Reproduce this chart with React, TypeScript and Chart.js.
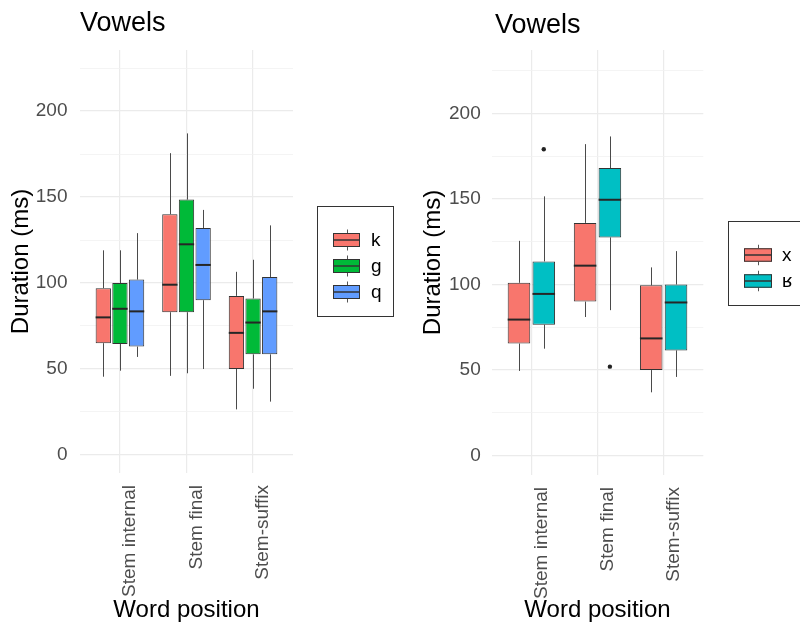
import React, { useEffect, useRef } from "react";
import { Chart, registerables } from "chart.js";

Chart.register(...registerables);

// ---------- data ----------
const categories = ["Stem internal", "Stem final", "Stem-suffix"];
const yTickValues = [0, 25, 50, 75, 100, 125, 150, 175, 200, 225];
const chartTitle = "Vowels";
const xTitle = "Word position";
const yTitle = "Duration (ms)";

// five-number summaries per category: [lower whisker, Q1, median, Q3, upper whisker]
const leftSeries = ["k", "g", "q"];
const kStats = [
  [45.5, 65, 80, 97, 119],
  [46, 83, 99, 140, 175.5],
  [26.5, 50, 71, 92.5, 106.5],
];
const gStats = [
  [49, 64.5, 85, 100, 119],
  [47.5, 83, 122.5, 148.5, 187],
  [38.5, 58.5, 77, 91, 113.5],
];
const qStats = [
  [57, 63, 83.5, 102, 129],
  [50, 90, 110.5, 132, 142.5],
  [31, 58.5, 83.5, 103.5, 133.5],
];
const leftOutliers = [
  [[], [], []],
  [[], [], []],
  [[], [], []],
];

const rightSeries = ["x", "ʁ"];
const xStats = [
  [49.5, 65.5, 79.5, 101, 125.5],
  [81, 90, 111, 136, 182],
  [37, 50, 68.5, 99.5, 110],
];
const rStats = [
  [62.5, 76.5, 94.5, 113.5, 151.5],
  [85, 127.5, 149.5, 168, 186.5],
  [46, 61.5, 89.5, 100, 119.5],
];
const rightOutliers = [
  [[], [], []],
  [[179], [52], []],
];

const leftColors = ["#F8766D", "#00BA38", "#619CFF"];
const rightColors = ["#F8766D", "#00BFC4"];

// ---------- helpers ----------
const FONT = "'Liberation Sans', Arial, Helvetica, sans-serif";
const OUTLINE = "#333333";

type LegendLayout = {
  x: number;
  y: number;
  w: number;
  h: number;
  keyX: number;
  keyW: number;
  keyH: number;
  rows: number[];
  labelX: number;
};

type Panel = {
  series: string[];
  stats: number[][][];
  outliers: number[][][];
  colors: string[];
  yMin: number;
  yMax: number;
  yAxisWidth: number;
  xAxisHeight: number;
  rightPad: number;
  tickPad: number;
  yTitlePad: number;
  barPct: number;
  labelOffset: number;
  titleX: number;
  titleY: number;
  legend: LegendLayout;
};

function boxPlugin(p: Panel) {
  return {
    id: "boxplotExtras",
    beforeDatasetsDraw(chart: any) {
      const ctx = chart.ctx;
      const ys = chart.scales.y;
      ctx.save();
      ctx.strokeStyle = "#4a4a4a";
      ctx.lineWidth = 1;
      p.series.forEach((_s, si) => {
        const meta = chart.getDatasetMeta(si);
        meta.data.forEach((el: any, ci: number) => {
          const st = p.stats[si][ci];
          const x = Math.round(el.x) + 0.5;
          ctx.beginPath();
          ctx.moveTo(x, ys.getPixelForValue(st[1]));
          ctx.lineTo(x, ys.getPixelForValue(st[0]));
          ctx.moveTo(x, ys.getPixelForValue(st[3]));
          ctx.lineTo(x, ys.getPixelForValue(st[4]));
          ctx.stroke();
        });
      });
      ctx.restore();
    },
    afterDatasetsDraw(chart: any) {
      const ctx = chart.ctx;
      const ys = chart.scales.y;
      ctx.save();
      p.series.forEach((_s, si) => {
        const meta = chart.getDatasetMeta(si);
        meta.data.forEach((el: any, ci: number) => {
          const st = p.stats[si][ci];
          const ym = ys.getPixelForValue(st[2]);
          ctx.strokeStyle = "#262626";
          ctx.lineWidth = 2;
          ctx.beginPath();
          ctx.moveTo(el.x - el.width / 2, ym);
          ctx.lineTo(el.x + el.width / 2, ym);
          ctx.stroke();
          const outs = p.outliers[si][ci];
          ctx.fillStyle = "#222222";
          outs.forEach((v) => {
            ctx.beginPath();
            ctx.arc(el.x, ys.getPixelForValue(v), 2.2, 0, Math.PI * 2);
            ctx.fill();
          });
        });
      });
      ctx.restore();
    },
    afterDraw(chart: any) {
      const ctx = chart.ctx;
      ctx.save();
      // title
      ctx.fillStyle = "#000";
      ctx.font = `27px ${FONT}`;
      ctx.textAlign = "left";
      ctx.textBaseline = "alphabetic";
      ctx.fillText(chartTitle, p.titleX, p.titleY);
      // legend
      const L = p.legend;
      ctx.strokeStyle = "#333333";
      ctx.lineWidth = 1;
      ctx.strokeRect(L.x + 0.5, L.y + 0.5, L.w, L.h);
      p.series.forEach((s, si) => {
        const cy = L.rows[si];
        const cx = L.keyX + L.keyW / 2;
        ctx.strokeStyle = "#555";
        ctx.lineWidth = 1;
        ctx.beginPath();
        ctx.moveTo(Math.round(cx) + 0.5, cy - L.keyH / 2 - 3.5);
        ctx.lineTo(Math.round(cx) + 0.5, cy + L.keyH / 2 + 3.5);
        ctx.stroke();
        ctx.fillStyle = p.colors[si];
        ctx.fillRect(L.keyX, cy - L.keyH / 2, L.keyW, L.keyH);
        ctx.strokeStyle = OUTLINE;
        ctx.strokeRect(L.keyX + 0.5, cy - L.keyH / 2 + 0.5, L.keyW - 1, L.keyH - 1);
        ctx.lineWidth = 1.5;
        ctx.beginPath();
        ctx.moveTo(L.keyX, cy);
        ctx.lineTo(L.keyX + L.keyW, cy);
        ctx.stroke();
        ctx.fillStyle = "#000";
        ctx.font = `19px ${FONT}`;
        ctx.textBaseline = "middle";
        ctx.fillText(s, L.labelX, cy + 1);
      });
      ctx.restore();
    },
  };
}

function makeConfig(p: Panel): any {
  return {
    type: "bar",
    data: {
      datasets: p.series.map((s, si) => ({
        label: s,
        data: categories.map((_c, ci) => ({
          x: ci + 1,
          y: [p.stats[si][ci][1], p.stats[si][ci][3]],
        })),
        backgroundColor: p.colors[si],
        borderColor: OUTLINE,
        borderWidth: 1,
        borderSkipped: false,
        categoryPercentage: 0.75,
        barPercentage: p.barPct,
      })),
    },
    options: {
      animation: false,
      responsive: false,
      devicePixelRatio: 1,
      events: [],
      layout: { padding: { top: 50, right: p.rightPad, left: 0, bottom: 0 } },
      plugins: {
        legend: { display: false },
        tooltip: { enabled: false },
        title: { display: false },
      },
      scales: {
        x: {
          type: "linear",
          min: 0.4,
          max: 3.6,
          offset: false,
          afterBuildTicks: (s: any) => {
            s.ticks = categories.map((_c, i) => ({ value: i + 1 }));
          },
          afterFit: (s: any) => {
            s.height = p.xAxisHeight;
          },
          grid: { color: "#ebebeb", lineWidth: 1.2, drawTicks: false, offset: false },
          border: { display: false },
          ticks: {
            autoSkip: false,
            maxRotation: 90,
            minRotation: 90,
            padding: 12,
            labelOffset: p.labelOffset,
            color: "#4d4d4d",
            font: { size: 19, family: FONT },
            callback: (v: number) => categories[Math.round(v) - 1] ?? "",
          },
          title: {
            display: true,
            text: xTitle,
            color: "#000",
            font: { size: 24, family: FONT, lineHeight: 1.2 },
            padding: { top: 0, bottom: 0 },
          },
        },
        y: {
          type: "linear",
          min: p.yMin,
          max: p.yMax,
          afterBuildTicks: (s: any) => {
            s.ticks = yTickValues.map((v) => ({ value: v }));
          },
          afterFit: (s: any) => {
            s.width = p.yAxisWidth;
          },
          grid: {
            color: (c: any) => (c.tick && c.tick.value % 50 === 0 ? "#ebebeb" : "#f1f1f1"),
            lineWidth: (c: any) => (c.tick && c.tick.value % 50 === 0 ? 1.2 : 0.8),
            drawTicks: false,
          },
          border: { display: false },
          ticks: {
            padding: p.tickPad,
            color: "#4d4d4d",
            font: { size: 19, family: FONT },
            callback: (v: number) => (v % 50 === 0 ? String(v) : ""),
          },
          title: {
            display: true,
            text: yTitle,
            color: "#000",
            font: { size: 24, family: FONT, lineHeight: 1.2 },
            padding: { top: p.yTitlePad, bottom: 0 },
          },
        },
      },
    },
    plugins: [boxPlugin(p)],
  };
}

const leftPanel: Panel = {
  series: leftSeries,
  stats: [kStats, gStats, qStats],
  outliers: leftOutliers,
  colors: leftColors,
  yMin: -10.5,
  yMax: 235.5,
  yAxisWidth: 80,
  xAxisHeight: 152,
  rightPad: 107,
  tickPad: 12.5,
  yTitlePad: 6.5,
  barPct: 0.92,
  labelOffset: 10,
  titleX: 80,
  titleY: 31,
  legend: {
    x: 317,
    y: 206,
    w: 76,
    h: 110,
    keyX: 333,
    keyW: 27,
    keyH: 14,
    rows: [240, 266, 292],
    labelX: 371,
  },
};

const rightPanel: Panel = {
  series: rightSeries,
  stats: [xStats, rStats],
  outliers: rightOutliers,
  colors: rightColors,
  yMin: -11.3,
  yMax: 237,
  yAxisWidth: 91.7,
  xAxisHeight: 150,
  rightPad: 96.7,
  tickPad: 11,
  yTitlePad: 19,
  barPct: 0.91,
  labelOffset: 10.5,
  titleX: 95,
  titleY: 33,
  legend: {
    x: 328,
    y: 221,
    w: 100,
    h: 84,
    keyX: 344,
    keyW: 28,
    keyH: 13.5,
    rows: [255, 281],
    labelX: 382,
  },
};

function PanelChart({ panel }: { panel: Panel }) {
  const ref = useRef<HTMLCanvasElement | null>(null);
  useEffect(() => {
    if (!ref.current) return;
    const chart = new Chart(ref.current, makeConfig(panel));
    return () => chart.destroy();
  }, [panel]);
  return <canvas ref={ref} width={400} height={625} style={{ display: "block", width: 400, height: 625 }} />;
}

export default function App() {
  return (
    <div style={{ position: "absolute", left: 0, top: 0, width: 800, height: 625, background: "#fff", overflow: "hidden" }}>
      <div style={{ position: "absolute", left: 0, top: 0 }}>
        <PanelChart panel={leftPanel} />
      </div>
      <div style={{ position: "absolute", left: 400, top: 0 }}>
        <PanelChart panel={rightPanel} />
      </div>
    </div>
  );
}
